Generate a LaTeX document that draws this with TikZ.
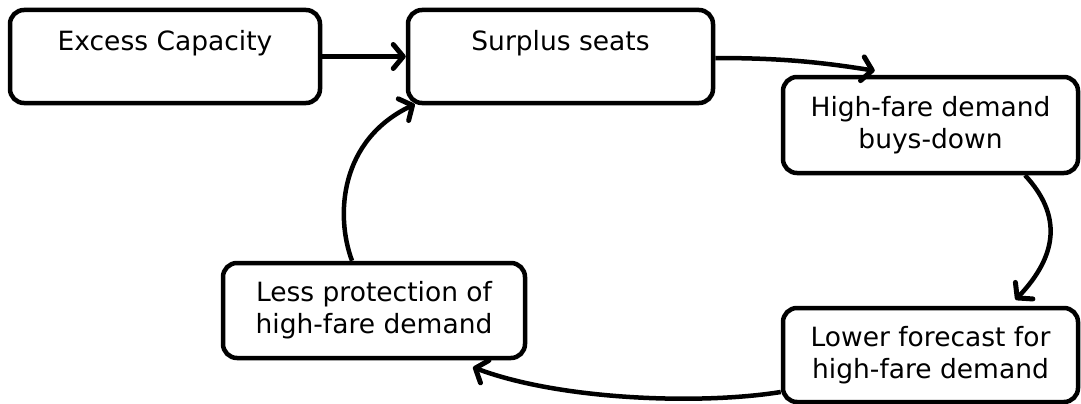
\documentclass[tikz,border=0pt]{standalone}
\usepackage{fontspec}
\setmainfont{DejaVu Sans}
\usetikzlibrary{arrows.meta}
\begin{document}
\begin{tikzpicture}[x=1pt,y=-1pt,
  box/.style={draw=black, line width=4.5pt, rounded corners=14pt, fill=white,
    align=center, inner sep=0pt, font=\fontsize{26.5}{32}\selectfont},
  conn/.style={line width=4.5pt, -{Straight Barb[length=10pt,width=24pt,line width=5pt,round]}}]
\useasboundingbox (0,0) rectangle (1081,404);
\node[box, minimum width=310pt, minimum height=93pt] (ex) at (165,56.5) {Excess Capacity\\[-10pt]\strut};
\node[box, minimum width=305pt, minimum height=93pt] (ss) at (560.5,56.5) {Surplus seats\\[-10pt]\strut};
\node[box, minimum width=295pt, minimum height=96pt] (hf) at (930.5,125) {High-fare demand\\buys-down};
\node[box, minimum width=302pt, minimum height=95pt] (lp) at (374,310.5) {Less protection of\\high-fare demand};
\node[box, minimum width=295pt, minimum height=94pt] (lf) at (930.5,355) {Lower forecast for\\high-fare demand};
\draw[conn] (ex.east) -- (ss.west);
\draw[conn] ([yshift=-1.5pt]ss.east) .. controls (780,58) and (820,62) .. ([xshift=94pt,yshift=4pt]hf.north west);
\draw[conn] ([xshift=94.5pt]hf.south) .. controls (1062,215) and (1058,255) .. ([xshift=85pt,yshift=6pt]lf.north);
\draw[conn] ([yshift=-37pt]lf.west) .. controls (700,405) and (560,400) .. ([xshift=99pt,yshift=-7pt]lp.south);
\draw[conn] ([xshift=-22pt]lp.north) .. controls (335,215) and (340,140) .. ([xshift=9pt,yshift=1pt]ss.south west);
\end{tikzpicture}
\end{document}
